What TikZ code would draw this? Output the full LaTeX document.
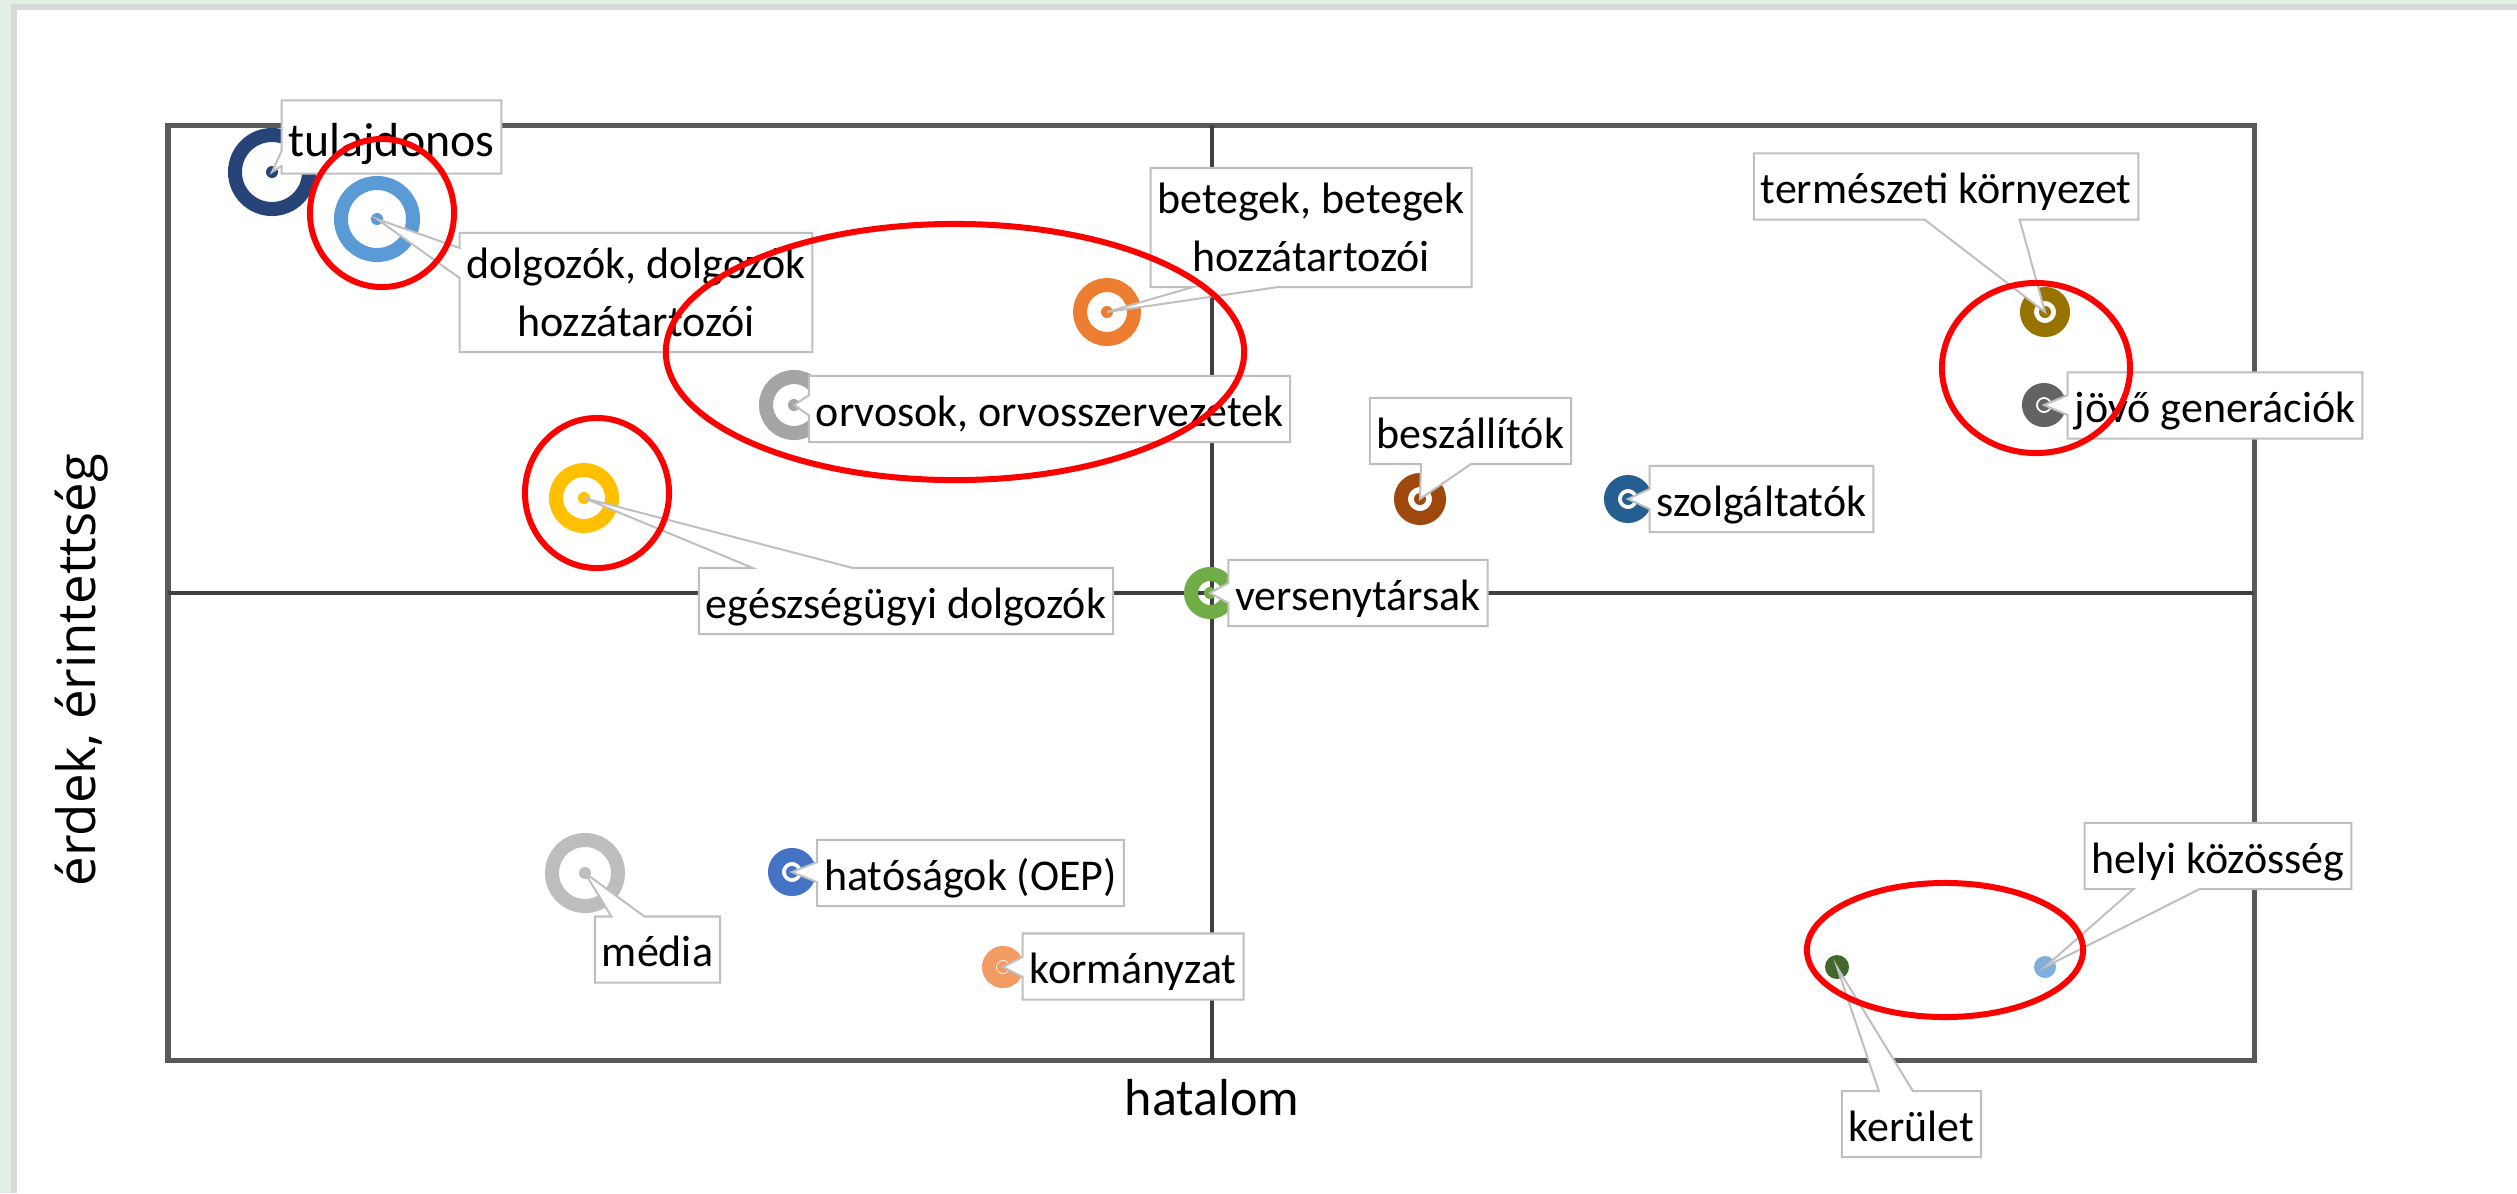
\documentclass[tikz,border=0pt]{standalone}
\usepackage{fontspec}
\setmainfont{Carlito}
\newfontfamily\axisfont{Open Sans}
\usepackage{tikz}
\usetikzlibrary{shapes}
\definecolor{slidegreen}{HTML}{E2EFE5}
\definecolor{slidegray}{HTML}{D9D9D9}
\definecolor{framegray}{HTML}{595959}
\definecolor{midgray}{HTML}{404040}
\definecolor{lblgray}{HTML}{BFBFBF}
\definecolor{tulc}{HTML}{264478}
\definecolor{dolgc}{HTML}{5B9BD5}
\definecolor{betc}{HTML}{ED7D31}
\definecolor{orvc}{HTML}{A5A5A5}
\definecolor{egc}{HTML}{FFC000}
\definecolor{beszc}{HTML}{9E480E}
\definecolor{szolgc}{HTML}{255E91}
\definecolor{versc}{HTML}{70AD47}
\definecolor{termc}{HTML}{997300}
\definecolor{jovoc}{HTML}{636363}
\definecolor{mediac}{HTML}{BDBDBD}
\definecolor{hatc}{HTML}{4472C4}
\definecolor{kormc}{HTML}{F29B62}
\definecolor{kerc}{HTML}{43682B}
\definecolor{helyc}{HTML}{7EAFDD}
\tikzstyle{lbl} = [rectangle callout, draw=lblgray, line width=0.02cm, fill=white,
    font=\fontsize{12.5}{16.5}\selectfont, inner xsep=0.07cm, inner ysep=0.11cm,
    text height=0.39cm, text depth=0.05cm, callout pointer width=0.2cm]
\tikzstyle{lbltwo} = [rectangle callout, draw=lblgray, line width=0.02cm, fill=white,
    font=\fontsize{12.5}{16.5}\selectfont, align=center, inner xsep=0.07cm,
    minimum height=1.19cm]
\tikzstyle{axis} = [draw, line width=0.045cm, midgray]
\tikzstyle{oval} = [draw=red, line width=0.06cm]
\tikzstyle{dot} = [circle, inner sep=0pt]
\tikzset{ring/.style={circle, inner sep=0pt, draw=#1, line width=0.14cm,
    path picture={\fill [#1] (path picture bounding box.center) circle (0.06cm);}}}

\begin{document}
\begin{tikzpicture}[x=0.01cm, y=-0.01cm]
   \useasboundingbox (0,0) rectangle (2517,1193);
   \fill [white] (0,0) rectangle (2517,1193);
   \fill [slidegreen] (0,0) rectangle (2517,3.5);
   \fill [slidegreen] (0,0) rectangle (11,1193);
   \fill [slidegray] (11,3.5) rectangle (2517,9.5);
   \fill [slidegray] (11,3.5) rectangle (17,1193);
   % Quadrants
    \draw [framegray, line width=0.05cm] (168,125) rectangle (2254,1060);
    \path [axis] (1212,125) -- (1212,1060);
    \path [axis] (168,593) -- (2254,593);
    \node [font=\axisfont\fontsize{15}{18}\selectfont, rotate=90, anchor=base] (yaxis) at (95,670) {érdek, érintettség};
    \node [font=\fontsize{14.8}{18}\selectfont, anchor=base] (xaxis) at (1212,1115) {hatalom};
   % Place bubbles
    \node [ring=tulc, minimum size=0.74cm] (tul) at (272,172) {};
    \node [ring=dolgc, minimum size=0.72cm] (dolg) at (377,219) {};
    \node [ring=betc, minimum size=0.54cm] (bet) at (1107,312) {};
    \node [ring=orvc, minimum size=0.56cm] (orv) at (794,405) {};
    \node [ring=egc, minimum size=0.56cm] (eg) at (584,498) {};
    \node [ring=beszc, minimum size=0.38cm] (besz) at (1420,499) {};
    \node [ring=szolgc, minimum size=0.34cm] (szolg) at (1628,499) {};
    \node [ring=versc, minimum size=0.38cm] (vers) at (1210,593) {};
    \node [ring=termc, minimum size=0.36cm] (term) at (2045,312) {};
    \node [ring=jovoc, minimum size=0.30cm] (jovo) at (2044,405) {};
    \node [ring=mediac, minimum size=0.66cm] (media) at (585,873) {};
    \node [ring=hatc, minimum size=0.34cm] (hat) at (792,872) {};
    \node [ring=kormc, minimum size=0.28cm] (korm) at (1003,967) {};
    \node [dot, fill=kerc, minimum size=0.24cm] (ker) at (1837,967) {};
    \node [dot, fill=helyc, minimum size=0.22cm] (hely) at (2045,967) {};
   % Place labels
    \node [lbl, font=\fontsize{13.6}{16.5}\selectfont, text height=0.43cm, minimum height=0.73cm, callout pointer width=0.15cm,
        callout absolute pointer={(tul.center)}] (tullbl) at (391.5,137) {tulajdonos};
    \node [lbltwo, callout pointer width=0.3cm, callout absolute pointer={(dolg.center)}] (dolglbl) at (636,292.5)
        {dolgozók, dolgozók\\hozzátartozói};
    \node [lbltwo, callout pointer width=0.85cm, callout absolute pointer={(bet.center)}] (betlbl) at (1311,227.5)
        {betegek, betegek\\hozzátartozói};
    \node [lbl, callout absolute pointer={(orv.center)}] (orvlbl) at (1049.5,409) {orvosok, orvosszervezetek};
    \node [lbl, callout pointer width=1.0cm, callout absolute pointer={(eg.center)}] (eglbl) at (906,601) {egészségügyi dolgozók};
    \node [lbl, callout pointer width=0.5cm, callout absolute pointer={(besz.center)}] (beszlbl) at (1470.5,431) {beszállítók};
    \node [lbl, callout absolute pointer={(szolg.center)}] (szolglbl) at (1761.5,499) {szolgáltatók};
    \node [lbl, callout absolute pointer={(vers.center)}] (verslbl) at (1358,593) {versenytársak};
    \node [lbl, callout pointer width=0.95cm, callout absolute pointer={(term.center)}] (termlbl) at (1946,186.5) {természeti környezet};
    \node [lbl, callout absolute pointer={(jovo.center)}] (jovolbl) at (2215,405.5) {jövő generációk};
    \node [lbl, callout pointer width=0.33cm, callout absolute pointer={(media.center)}] (medialbl) at (657.5,949.5) {média};
    \node [lbl, callout absolute pointer={(hat.center)}] (hatlbl) at (970.5,873) {hatóságok (OEP)};
    \node [lbl, callout absolute pointer={(korm.center)}] (kormlbl) at (1133,966.5) {kormányzat};
    \node [lbl, callout pointer width=0.66cm, callout absolute pointer={(hely.center)}] (helylbl) at (2218,856) {helyi közösség};
    \node [lbl, callout pointer width=0.34cm, callout absolute pointer={(ker.center)}] (kerlbl) at (1911.5,1124) {kerület};
   % Groups
    \draw [oval] (382,213) ellipse [x radius=0.72cm, y radius=0.74cm];
    \draw [oval] (955,352) ellipse [x radius=2.89cm, y radius=1.28cm];
    \draw [oval] (597,493) ellipse [x radius=0.72cm, y radius=0.75cm];
    \draw [oval] (2036,368) ellipse [x radius=0.94cm, y radius=0.85cm];
    \draw [oval] (1945,950) ellipse [x radius=1.38cm, y radius=0.67cm];
\end{tikzpicture}
\end{document}
